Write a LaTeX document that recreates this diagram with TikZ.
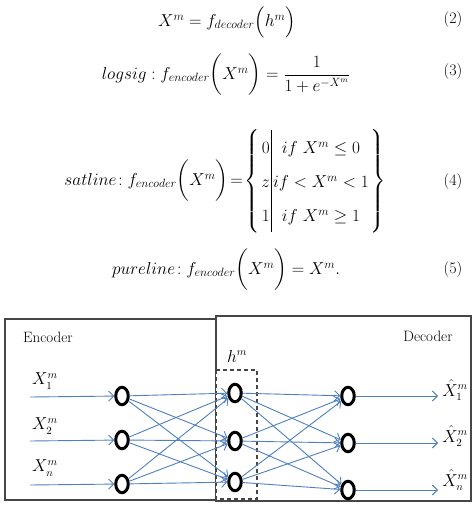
\documentclass[tikz,border=0pt]{standalone}
\usepackage{amsmath}
\usetikzlibrary{shapes.geometric,arrows.meta}
\definecolor{lblue}{RGB}{79,129,189}
\definecolor{boxgray}{RGB}{70,70,70}
\begin{document}
\begin{tikzpicture}[x=1pt,y=-1pt,
  eq/.style={font=\fontsize{17}{20}\selectfont, inner sep=0},
  eqnum/.style={font=\fontsize{16}{19}\selectfont, inner sep=0},
  neuron/.style={ellipse, draw=black, line width=3pt, minimum width=12.5pt, minimum height=17.5pt, inner sep=0},
  conn/.style={draw=lblue, line width=0.9pt, -{Straight Barb[length=5pt,width=10pt]}},
  lab/.style={font=\fontsize{16}{18}\selectfont, inner sep=0},
  ttl/.style={font=\fontsize{15}{17}\selectfont, inner sep=0},
  frame/.style={draw=boxgray, line width=1.2pt},
  hidbox/.style={draw=boxgray, line width=1.2pt, dash pattern=on 4pt off 3pt, fill=white}
]
\path[use as bounding box, fill=white] (0,0) rectangle (473,513);

% equations
\node[eq] (eq2) at (227,22) {$X^{m} = f_{decoder}\Bigl(h^{m}\Bigr)$};
\node[eqnum] (n2) at (453,20) {(2)};
\node[eq] (eq3) at (226,75) {$logsig: f_{encoder}\biggl(X^{m}\biggr)=\dfrac{1}{1+e^{-X^{m}}}$};
\node[eqnum] (n3) at (453,72) {(3)};
\node[eq] (eq4) at (225,181) {$satline\!: f_{encoder}\biggl(X^{m}\biggr)\!=\!\left\{\setlength{\arraycolsep}{1.5pt}\renewcommand{\arraystretch}{1.7}\begin{array}{c|c}0 & if\ X^{m}\le 0\\ z & if<X^{m}<1\\ 1 & if\ X^{m}\ge 1\end{array}\right\}$};
\node[eqnum] (n4) at (453,182) {(4)};
\node[eq] (eq5) at (226,270) {$pureline\!: f_{encoder}\biggl(X^{m}\biggr)= X^{m}.$};
\node[eqnum] (n5) at (453,270) {(5)};

% boxes
\draw[frame] (5,319) rectangle (216,500);
\draw[frame] (216,316) rectangle (471,501);
\draw[hidbox] (216,370) rectangle (257,499);

\node[ttl] (enc) at (48,337) {Encoder};
\node[ttl] (dec) at (428,336) {Decoder};
\node[lab] (hl) at (237,356) {$h^{m}$};

% neurons
\node[neuron] (e1) at (122,396) {};
\node[neuron] (e2) at (122,440) {};
\node[neuron] (e3) at (122,484) {};
\node[neuron] (h1) at (235,393) {};
\node[neuron] (h2) at (235,441) {};
\node[neuron] (h3) at (235,482) {};
\node[neuron] (d1) at (348,396) {};
\node[neuron] (d2) at (348,443) {};
\node[neuron] (d3) at (348,490) {};

\coordinate (in1) at (30,397);
\coordinate (in2) at (30,441);
\coordinate (in3) at (30,485);
\coordinate (out1) at (438,396);
\coordinate (out2) at (438,443);
\coordinate (out3) at (438,490);

\node[lab] (lx1) at (45,381) {$X^{m}_{1}$};
\node[lab] (lx2) at (45,426) {$X^{m}_{2}$};
\node[lab] (lx3) at (45,468) {$X^{m}_{n}$};
\node[lab] (ly1) at (455,390) {$\hat{X}^{m}_{1}$};
\node[lab] (ly2) at (455,436) {$\hat{X}^{m}_{2}$};
\node[lab] (ly3) at (455,480) {$\hat{X}^{m}_{n}$};

\foreach \i in {1,2,3} {
  \draw[conn] (in\i) -- (e\i);
  \draw[conn] (d\i) -- (out\i);
  \foreach \j in {1,2,3} {
    \draw[conn] (e\i) -- (h\j);
    \draw[conn] (h\i) -- (d\j);
  }
}
\end{tikzpicture}
\end{document}
